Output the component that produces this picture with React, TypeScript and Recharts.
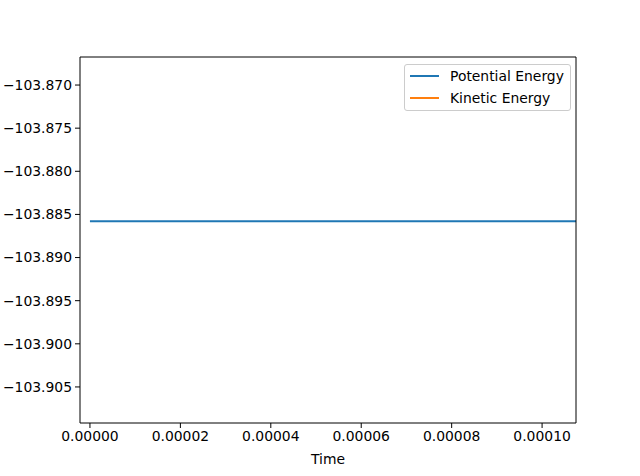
import {
  LineChart,
  Line,
  XAxis,
  YAxis,
} from 'recharts';

const times = [0, 0.00001, 0.00002, 0.00003, 0.00004, 0.00005, 0.00006, 0.00007, 0.00008, 0.00009, 0.0001, 0.00011, 0.00012];
const potentialEnergy = [
  -103.8858, -103.8858, -103.8858, -103.8858, -103.8858, -103.8858, -103.8858,
  -103.8858, -103.8858, -103.8858, -103.8858, -103.8858, -103.8858,
];
// kinetic energy sits far outside the visible range
const kineticEnergy = [0.0, 0.0, 0.0, 0.0, 0.0, 0.0, 0.0, 0.0, 0.0, 0.0, 0.0, 0.0, 0.0];

const xTicks = [0, 0.00002, 0.00004, 0.00006, 0.00008, 0.0001];
const yTicks = [-103.87, -103.875, -103.88, -103.885, -103.89, -103.895, -103.9, -103.905];

const FONT = 'DejaVu Sans, sans-serif';
const BLUE = '#1f77b4';
const ORANGE = '#ff7f0e';
const X_DOMAIN: [number, number] = [-0.0000022, 0.0001075];
const Y_DOMAIN: [number, number] = [-103.90918, -103.86675];

const fmtY = (v: number) => v.toFixed(3).replace('-', '\u2212');
const fmtX = (v: number) => v.toFixed(5);

function LegendBox() {
  const items = [
    { name: 'Potential Energy', color: BLUE },
    { name: 'Kinetic Energy', color: ORANGE },
  ];
  return (
    <div
      style={{
        position: 'absolute',
        left: 404,
        top: 64,
        border: '1px solid #cccccc',
        borderRadius: 3,
        background: 'rgba(255,255,255,0.8)',
        padding: '0px 6px 1px 5px',
        fontFamily: FONT,
        fontSize: 13.9,
        lineHeight: '22px',
        color: '#000',
      }}
    >
      {items.map((it) => (
        <div key={it.name} style={{ display: 'flex', alignItems: 'center' }}>
          <span
            style={{
              display: 'inline-block',
              width: 29,
              height: 2,
              background: it.color,
              marginRight: 11,
            }}
          />
          {it.name}
        </div>
      ))}
    </div>
  );
}

function App() {
  const chartData = times.map((t, i) => ({
    time: t,
    potential: potentialEnergy[i],
    kinetic: kineticEnergy[i],
  }));

  return (
    <div style={{ position: 'absolute', left: 0, top: 0, width: 640, height: 476, background: '#fff' }}>
      <LineChart
        width={640}
        height={476}
        data={chartData}
        margin={{ top: 56, right: 63, left: 0, bottom: 0 }}
      >
        <XAxis
          xAxisId="bottom"
          dataKey="time"
          type="number"
          domain={X_DOMAIN}
          allowDataOverflow
          ticks={xTicks}
          tickFormatter={fmtX}
          height={53}
          stroke="#000"
          tickSize={5}
          tickMargin={3}
          tick={{ fill: '#000', fontFamily: FONT, fontSize: 13.9 }}
          label={{ value: 'Time', position: 'insideBottom', offset: 12, fill: '#000', fontFamily: FONT, fontSize: 13.9 }}
        />
        <XAxis
          xAxisId="top"
          orientation="top"
          dataKey="time"
          type="number"
          domain={X_DOMAIN}
          allowDataOverflow
          height={1}
          tick={false}
          tickLine={false}
          stroke="#000"
        />
        <YAxis
          yAxisId="left"
          type="number"
          domain={Y_DOMAIN}
          allowDataOverflow
          ticks={yTicks}
          tickFormatter={fmtY}
          width={80}
          stroke="#000"
          tickSize={5}
          tickMargin={3}
          tick={{ fill: '#000', fontFamily: FONT, fontSize: 13.9 }}
        />
        <YAxis
          yAxisId="right"
          orientation="right"
          type="number"
          domain={Y_DOMAIN}
          allowDataOverflow
          width={1}
          tick={false}
          tickLine={false}
          stroke="#000"
        />
        <Line
          xAxisId="bottom"
          yAxisId="left"
          type="linear"
          dataKey="potential"
          name="Potential Energy"
          stroke={BLUE}
          strokeWidth={2}
          dot={false}
          isAnimationActive={false}
        />
        <Line
          xAxisId="bottom"
          yAxisId="left"
          type="linear"
          dataKey="kinetic"
          name="Kinetic Energy"
          stroke={ORANGE}
          strokeWidth={2}
          dot={false}
          isAnimationActive={false}
        />
      </LineChart>
      <LegendBox />
    </div>
  );
}

export default App;
